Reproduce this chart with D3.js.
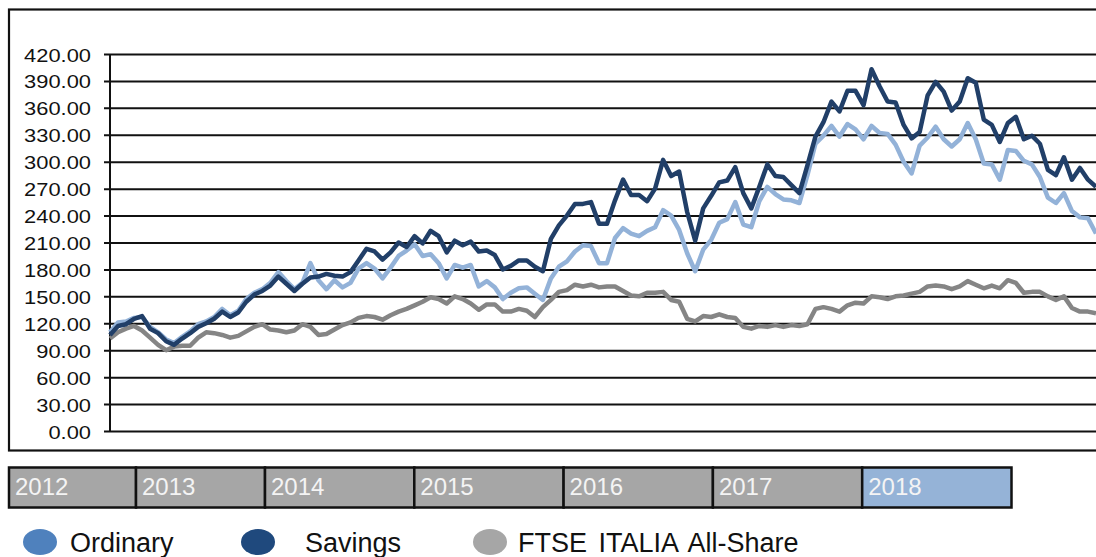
<!DOCTYPE html>
<html>
<head>
<meta charset="utf-8">
<script src="https://cdn.jsdelivr.net/npm/d3@7"></script>
<style>
  html, body { margin: 0; padding: 0; background: #fff; }
  svg { display: block; font-family: "Liberation Sans", Arial, sans-serif; }
</style>
</head>
<body>
<div id="chart-holder"></div>
<script>
//****DATA****
// weekly-ish readings, rebased so the first point is ~100
const ordinary = [110,121,122,126,127,116,110,102,98,105,111,119,122,127,136,129,134,147,154,158,
  165,177,167,158,165,187,168,158,168,160,165,181,187,181,170,182,195,201,208,195,
  197,187,170,185,182,185,161,167,160,147,154,159,160,153,146,170,183,189,200,207,
  206,187,187,215,226,220,217,223,227,246,240,224,198,178,202,213,232,236,255,230,
  227,256,272,264,258,257,254,285,320,329,340,328,342,336,325,340,332,331,319,300,
  287,318,327,339,325,317,325,343,325,298,297,280,313,312,301,297,283,260,254,265,
  245,238,237,220];
const savings = [107,117,119,125,128,114,109,100,96,103,109,116,120,125,133,127,132,144,152,156,
  162,172,164,156,164,171,172,175,173,172,177,190,203,200,191,199,210,205,217,209,
  223,217,199,212,207,211,200,201,196,180,184,190,190,183,178,214,229,240,253,253,
  255,231,231,257,280,263,263,256,270,302,284,289,244,212,248,262,277,279,294,265,
  248,272,297,284,283,274,265,296,328,344,367,356,379,379,363,403,384,367,366,341,
  326,333,374,389,378,357,367,393,388,347,341,322,343,350,325,329,320,291,285,305,
  280,293,280,272];
const ftse = [103,110,114,117,112,104,96,90,94,95,95,104,110,109,107,104,106,111,116,119,
  113,112,110,112,119,116,107,108,113,118,121,126,128,127,124,129,133,136,140,144,
  149,147,142,150,147,142,135,141,141,133,133,136,134,127,138,146,155,157,163,161,
  163,160,161,161,156,151,150,154,154,155,146,144,125,122,128,127,130,127,126,116,
  114,117,116,118,116,118,117,119,136,138,136,133,140,143,142,150,149,147,150,151,
  153,155,161,162,161,158,161,167,163,159,162,159,168,165,154,155,155,150,146,150,
  137,133,133,131];
const yTickValues = [0,30,60,90,120,150,180,210,240,270,300,330,360,390,420];
const years = [2012,2013,2014,2015,2016,2017,2018];
const seriesNames = ['Ordinary','Savings','FTSE ITALIA All-Share'];

//****CANVAS****
const width = 1096;
const height = 557;
const plotLeft = 110;
const plotRight = 1096;
const plotTop = 54;
const plotBottom = 431;

const svg = d3.select('#chart-holder')
    .append('svg')
    .attr('width', width)
    .attr('height', height);

// outer frame, right side runs off the picture
svg.append('rect')
    .attr('x', 9)
    .attr('y', 9.5)
    .attr('width', 1100)
    .attr('height', 441)
    .attr('fill', 'none')
    .attr('stroke', '#111')
    .attr('stroke-width', 2.2);

//****SCALES****
const xScale = d3.scaleLinear()
    .domain([0, savings.length - 1])
    .range([plotLeft, plotRight]);
const yScale = d3.scaleLinear()
    .domain([0, 420])
    .range([plotBottom, plotTop]);

// grid lines (also act as the y ticks)
const grid = svg.append('g')
    .attr('transform', `translate(${plotLeft},0)`)
    .call(d3.axisLeft(yScale)
        .tickValues(yTickValues)
        .tickSize(-(plotRight - plotLeft + 10))
        .tickFormat(''));
grid.select('.domain').remove();
grid.selectAll('.tick line')
    .attr('x1', -6)
    .attr('stroke', '#111')
    .attr('stroke-width', 2);

// y axis line
svg.append('line')
    .attr('x1', plotLeft).attr('x2', plotLeft)
    .attr('y1', plotTop).attr('y2', plotBottom)
    .attr('stroke', '#111')
    .attr('stroke-width', 2);

// tick labels, a little stretched sideways like the original
svg.append('g')
    .selectAll('text')
    .data(yTickValues)
    .enter()
    .append('text')
    .attr('transform', d => `translate(91,${yScale(d) + 7.5}) scale(1.25,1)`)
    .attr('text-anchor', 'end')
    .style('font-size', '17.5px')
    .style('fill', '#111')
    .text(d => d3.format('.2f')(d));

//****LINES****
const linePath = d3.line()
    .x((d, i) => xScale(i))
    .y(d => yScale(d));

const series = [
    {values: ftse, color: '#858585'},
    {values: ordinary, color: '#93b2d8'},
    {values: savings, color: '#213f68'}
];
svg.append('g')
    .selectAll('path')
    .data(series)
    .enter()
    .append('path')
    .attr('d', d => linePath(d.values))
    .attr('fill', 'none')
    .attr('stroke', d => d.color)
    .attr('stroke-width', 4.5)
    .attr('stroke-linejoin', 'round');

//****YEAR BAR****
const yearScale = d3.scaleLinear()
    .domain([2012, 2013, 2014, 2019])
    .range([9, 136, 265, 1011.5]);
const yearGroup = svg.append('g');
yearGroup.selectAll('rect')
    .data(years)
    .enter()
    .append('rect')
    .attr('x', d => yearScale(d))
    .attr('y', 467.5)
    .attr('width', d => yearScale(d + 1) - yearScale(d))
    .attr('height', 40)
    .attr('fill', d => d === 2018 ? '#95b3d7' : '#a6a6a6')
    .attr('stroke', '#111')
    .attr('stroke-width', 2.5);
yearGroup.selectAll('text')
    .data(years)
    .enter()
    .append('text')
    .attr('x', d => yearScale(d) + 6)
    .attr('y', 495)
    .style('font-size', '24px')
    .style('fill', '#f4f4f4')
    .text(d => d);

//****LEGEND****
const legendColors = ['#4f81bd', '#1f497d', '#a6a6a6'];
const legendX = [40, 258, 490];
const legendTextX = [70, 305, 518];
const legend = svg.append('g')
    .selectAll('g')
    .data(seriesNames)
    .enter()
    .append('g');
legend.append('ellipse')
    .attr('cx', (d, i) => legendX[i])
    .attr('cy', 542)
    .attr('rx', 17)
    .attr('ry', 13)
    .attr('fill', (d, i) => legendColors[i]);
legend.append('text')
    .attr('x', (d, i) => legendTextX[i])
    .attr('y', 552)
    .style('font-size', '27px')
    .style('word-spacing', '4px')
    .style('fill', '#111')
    .text(d => d);
</script>
</body>
</html>
